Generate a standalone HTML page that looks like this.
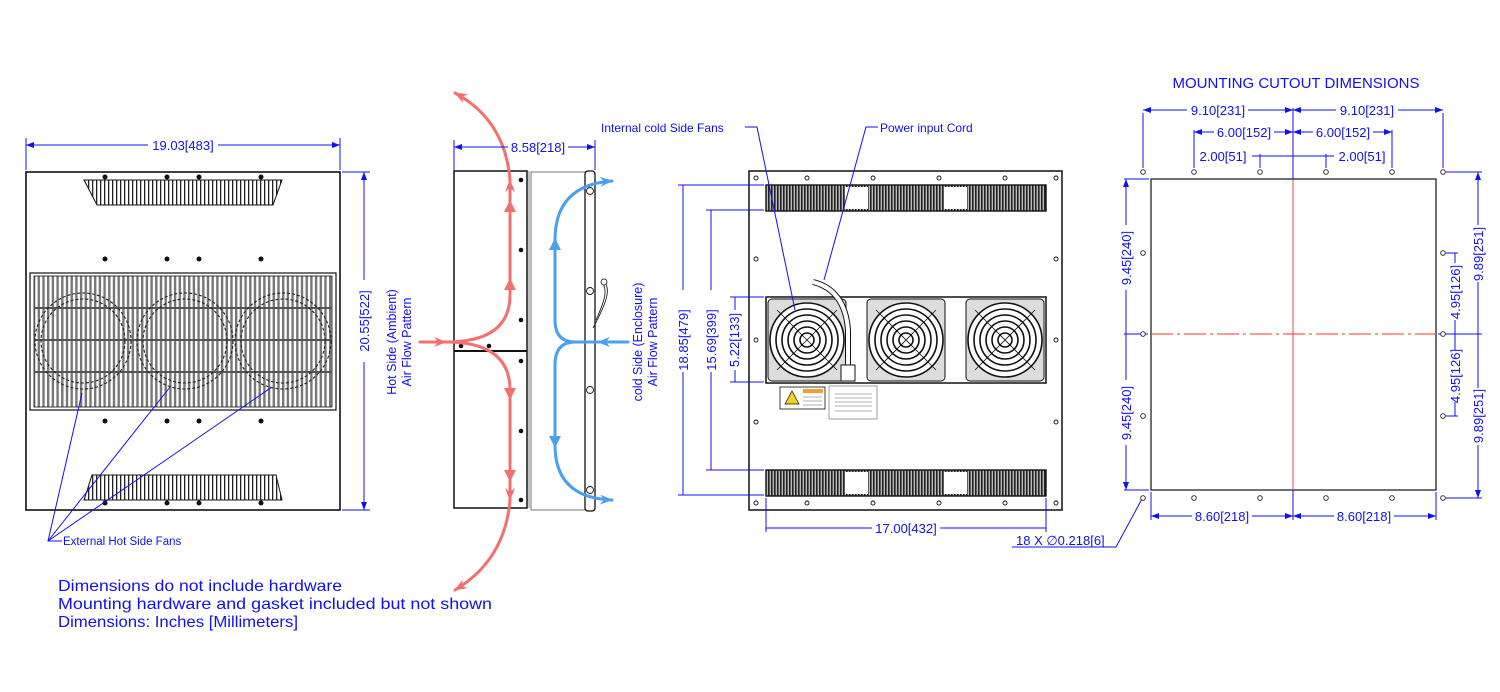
<!DOCTYPE html>
<html><head><meta charset="utf-8"><style>
html,body{margin:0;padding:0;background:#fff;}
svg{display:block;}
text{font-family:"Liberation Sans",sans-serif;fill:#1010f0;}
</style></head><body>
<svg width="1500" height="692" viewBox="0 0 1500 692" xmlns="http://www.w3.org/2000/svg">
<defs>
<pattern id="vs" width="4" height="10" patternUnits="userSpaceOnUse"><rect width="4" height="10" fill="#fff"/><rect x="0" width="1.3" height="10" fill="#222"/></pattern>
<pattern id="gs" width="4.7" height="10" patternUnits="userSpaceOnUse"><rect width="4.7" height="10" fill="#fff"/><rect x="0" width="2.4" height="10" fill="#777"/></pattern>
<pattern id="ds" width="3" height="10" patternUnits="userSpaceOnUse"><rect width="3" height="10" fill="#bbb"/><rect x="0" width="1.6" height="10" fill="#222"/></pattern>
<marker id="ab" markerWidth="8" markerHeight="6" refX="8" refY="3" orient="auto-start-reverse" markerUnits="userSpaceOnUse"><path d="M0,0 L8,3 L0,6 z" fill="#1010f0"/></marker>
<marker id="ar" markerWidth="14" markerHeight="10" refX="12" refY="5" orient="auto" markerUnits="userSpaceOnUse"><path d="M0,0 L13,5 L0,10 L4,5 z" fill="#f47070"/></marker>
<marker id="ac" markerWidth="14" markerHeight="10" refX="12" refY="5" orient="auto" markerUnits="userSpaceOnUse"><path d="M0,0 L13,5 L0,10 L4,5 z" fill="#4aa0ee"/></marker>
</defs>

<!-- ============ VIEW 1 ============ -->
<g stroke="#111" fill="none">
<rect x="26" y="172" width="314" height="338" stroke-width="1.6"/>
<polygon points="84,180 282,180 273,205 97,205" fill="url(#vs)" stroke-width="1"/>
<polygon points="92,475 276,475 282,500 84,500" fill="url(#vs)" stroke-width="1"/>
<rect x="30" y="273" width="306" height="137" stroke-width="1.2" fill="#fff"/>
<rect x="34" y="276" width="298" height="131" fill="url(#gs)" stroke-width="0.8"/>
<line x1="34" y1="308" x2="332" y2="308" stroke="#555" stroke-width="2"/>
<line x1="34" y1="340" x2="332" y2="340" stroke="#555" stroke-width="2"/>
<line x1="34" y1="372" x2="332" y2="372" stroke="#555" stroke-width="2"/>
<g stroke="#222" stroke-width="1.1" stroke-dasharray="3,2">
<circle cx="83" cy="341" r="48"/><circle cx="83" cy="341" r="42"/>
<circle cx="185" cy="341" r="48"/><circle cx="185" cy="341" r="42"/>
<circle cx="283" cy="341" r="48"/><circle cx="283" cy="341" r="42"/>
</g>
</g>
<g fill="#111">
<circle cx="105" cy="177" r="2.5"/><circle cx="167" cy="177" r="2.5"/><circle cx="199" cy="177" r="2.5"/><circle cx="261" cy="177" r="2.5"/>
<circle cx="105" cy="259" r="2.5"/><circle cx="167" cy="259" r="2.5"/><circle cx="199" cy="259" r="2.5"/><circle cx="261" cy="259" r="2.5"/>
<circle cx="105" cy="421" r="2.5"/><circle cx="167" cy="421" r="2.5"/><circle cx="199" cy="421" r="2.5"/><circle cx="261" cy="421" r="2.5"/>
<circle cx="105" cy="503" r="2.5"/><circle cx="167" cy="503" r="2.5"/><circle cx="199" cy="503" r="2.5"/><circle cx="261" cy="503" r="2.5"/>
</g>
<g stroke="#1010f0" stroke-width="1" fill="none">
<line x1="26" y1="138" x2="26" y2="170"/><line x1="340" y1="138" x2="340" y2="170"/>
<line x1="26" y1="145" x2="148" y2="145" marker-start="url(#ab)"/><line x1="218" y1="145" x2="340" y2="145" marker-end="url(#ab)"/>
<line x1="342" y1="172" x2="370" y2="172"/><line x1="342" y1="510" x2="370" y2="510"/>
<line x1="364" y1="172" x2="364" y2="280" marker-start="url(#ab)"/><line x1="364" y1="362" x2="364" y2="510" marker-end="url(#ab)"/>
<polyline points="62,541 48,541 82,393"/><line x1="48" y1="541" x2="170" y2="387"/><line x1="48" y1="541" x2="272" y2="387"/>
</g>
<text x="183" y="150" font-size="13" text-anchor="middle">19.03[483]</text>
<text transform="translate(369,321) rotate(-90)" font-size="13" text-anchor="middle">20.55[522]</text>
<text x="63" y="545" font-size="11.5">External Hot Side Fans</text>

<!-- ============ VIEW 2 ============ -->
<g stroke="#111" fill="none">
<rect x="454" y="171" width="73" height="337" stroke-width="1.5"/>
<line x1="454" y1="351" x2="527" y2="351" stroke-width="2"/>
<line x1="529" y1="171" x2="529" y2="508" stroke="#888"/>
<rect x="531" y="172" width="54" height="338" stroke-width="0.8" stroke="#555"/>
<rect x="585" y="171" width="10" height="340" rx="3" stroke-width="1.3"/>
<path d="M596,320 C605,300 608,290 602,282" stroke-width="0.8"/>
<path d="M593,328 C608,300 610,290 605,282" stroke-width="0.8"/>
<circle cx="604" cy="282" r="3" stroke-width="0.8" fill="#fff"/>
<g stroke-width="0.9"><circle cx="590" cy="191" r="3.5"/><circle cx="590" cy="291" r="3.5"/><circle cx="590" cy="390" r="3.5"/><circle cx="590" cy="490" r="3.5"/></g>
</g>
<g fill="#111"><circle cx="521" cy="180" r="2.3"/><circle cx="521" cy="250" r="2.3"/><circle cx="521" cy="320" r="2.3"/><circle cx="521" cy="361" r="2.3"/><circle cx="521" cy="431" r="2.3"/><circle cx="521" cy="500" r="2.3"/><circle cx="461" cy="346" r="2.3"/><circle cx="489" cy="346" r="2.3"/></g>
<g stroke="#f47070" stroke-width="3" fill="none" stroke-linecap="round">
<line x1="420" y1="342" x2="446" y2="342" marker-end="url(#ar)"/>
<path d="M446,342 Q510,342 510,295"/>
<path d="M446,342 Q510,342 510,390"/>
<line x1="510" y1="295" x2="510" y2="270"/><line x1="510" y1="295" x2="510" y2="180" marker-end="url(#ar)"/>
<line x1="510" y1="390" x2="510" y2="500" marker-end="url(#ar)"/>
<path d="M510,180 Q505,120 455,93" marker-end="url(#ar)"/>
<path d="M510,500 Q505,560 455,590" marker-end="url(#ar)"/>
</g>
<g fill="#f47070"><path d="M504,212 L510,200 L516,212z"/><path d="M504,290 L510,278 L516,290z"/><path d="M504,388 L510,400 L516,388z"/><path d="M504,470 L510,482 L516,470z"/></g>
<g stroke="#4aa0ee" stroke-width="3" fill="none" stroke-linecap="round">
<line x1="628" y1="342" x2="598" y2="342" marker-end="url(#ac)"/>
<path d="M600,342 L575,342 Q555,342 555,320"/>
<path d="M575,342 Q555,342 555,365"/>
<line x1="555" y1="320" x2="555" y2="240"/>
<line x1="555" y1="365" x2="555" y2="445"/>
<path d="M555,240 Q555,185 612,181" marker-end="url(#ac)"/>
<path d="M555,445 Q555,498 612,500" marker-end="url(#ac)"/>
</g>
<g fill="#4aa0ee"><path d="M549,250 L555,238 L561,250z"/><path d="M549,436 L555,448 L561,436z"/></g>
<g stroke="#1010f0" stroke-width="1" fill="none">
<line x1="454" y1="140" x2="454" y2="170"/><line x1="595" y1="140" x2="595" y2="170"/>
<line x1="454" y1="147" x2="508" y2="147" marker-start="url(#ab)"/><line x1="568" y1="147" x2="595" y2="147" marker-end="url(#ab)"/>
</g>
<text x="538" y="152" font-size="13" text-anchor="middle">8.58[218]</text>
<text transform="translate(396,342) rotate(-90)" font-size="12.5" text-anchor="middle">Hot Side (Ambient)</text>
<text transform="translate(411,342) rotate(-90)" font-size="12.5" text-anchor="middle">Air Flow Pattern</text>
<text transform="translate(642,342) rotate(-90)" font-size="12.5" text-anchor="middle">cold Side (Enclosure)</text>
<text transform="translate(657,342) rotate(-90)" font-size="12.5" text-anchor="middle">Air Flow Pattern</text>

<!-- ============ VIEW 3 ============ -->
<g stroke="#111" fill="none">
<rect x="749" y="171" width="313" height="339" stroke-width="1.5"/>
<rect x="766" y="185" width="280" height="26" fill="url(#ds)" stroke-width="1.4"/>
<rect x="845" y="187" width="23" height="22" fill="#fff" stroke="none"/><rect x="944" y="187" width="23" height="22" fill="#fff" stroke="none"/>
<rect x="766" y="470" width="280" height="26" fill="url(#ds)" stroke-width="1.4"/>
<rect x="845" y="472" width="23" height="22" fill="#fff" stroke="none"/><rect x="944" y="472" width="23" height="22" fill="#fff" stroke="none"/>
<rect x="766" y="297" width="280" height="86" stroke-width="1.5" fill="#fff"/>
<g stroke-width="1">
<rect x="768" y="299" width="78" height="82" rx="4" fill="#ddd"/>
<rect x="867" y="299" width="78" height="82" rx="4" fill="#ddd"/>
<rect x="966" y="299" width="78" height="82" rx="4" fill="#ddd"/>
</g>
<g stroke-width="1.6">
<circle cx="807" cy="340" r="37" fill="#fff"/><circle cx="807" cy="340" r="31"/><circle cx="807" cy="340" r="25"/><circle cx="807" cy="340" r="19"/><circle cx="807" cy="340" r="13"/><circle cx="807" cy="340" r="7"/>
<circle cx="906" cy="340" r="37" fill="#fff"/><circle cx="906" cy="340" r="31"/><circle cx="906" cy="340" r="25"/><circle cx="906" cy="340" r="19"/><circle cx="906" cy="340" r="13"/><circle cx="906" cy="340" r="7"/>
<circle cx="1005" cy="340" r="37" fill="#fff"/><circle cx="1005" cy="340" r="31"/><circle cx="1005" cy="340" r="25"/><circle cx="1005" cy="340" r="19"/><circle cx="1005" cy="340" r="13"/><circle cx="1005" cy="340" r="7"/>
</g>
<g stroke-width="0.8"><path d="M777,310 L837,370 M837,310 L777,370 M876,310 L936,370 M936,310 L876,370 M975,310 L1035,370 M1035,310 L975,370"/></g>
<path d="M813,282 Q845,290 848,330 L848,368" stroke-width="6" stroke="#111"/>
<path d="M813,282 Q845,290 848,330 L848,368" stroke-width="4" stroke="#fff"/>
<rect x="841" y="365" width="14" height="16" fill="#fff" stroke-width="1"/>
<rect x="780" y="387" width="45" height="22" fill="#fff" stroke-width="0.8"/>
<rect x="829" y="386" width="48" height="33" fill="#fff" stroke-width="0.8" stroke="#888"/>
</g>
<path d="M785,404 L792,391 L799,404z" fill="#f4d020" stroke="#111" stroke-width="0.7"/>
<rect x="803" y="389" width="20" height="4" fill="#f0a030"/>
<g stroke="#999" stroke-width="0.8"><line x1="803" y1="397" x2="822" y2="397"/><line x1="803" y1="401" x2="822" y2="401"/><line x1="803" y1="405" x2="822" y2="405"/><line x1="835" y1="394" x2="872" y2="394"/><line x1="835" y1="398" x2="872" y2="398"/><line x1="835" y1="402" x2="872" y2="402"/><line x1="835" y1="406" x2="872" y2="406"/><line x1="835" y1="411" x2="872" y2="411"/></g>
<g fill="none" stroke="#111" stroke-width="0.9">
<circle cx="756" cy="178" r="2"/><circle cx="807" cy="178" r="2"/><circle cx="873" cy="178" r="2"/><circle cx="939" cy="178" r="2"/><circle cx="1005" cy="178" r="2"/><circle cx="1056" cy="178" r="2"/>
<circle cx="756" cy="503" r="2"/><circle cx="807" cy="503" r="2"/><circle cx="873" cy="503" r="2"/><circle cx="939" cy="503" r="2"/><circle cx="1005" cy="503" r="2"/><circle cx="1056" cy="503" r="2"/>
<circle cx="756" cy="259" r="2"/><circle cx="756" cy="340" r="2"/><circle cx="756" cy="422" r="2"/>
<circle cx="1056" cy="259" r="2"/><circle cx="1056" cy="340" r="2"/><circle cx="1056" cy="422" r="2"/>
</g>
<g stroke="#1010f0" stroke-width="1" fill="none">
<line x1="678" y1="185" x2="764" y2="185"/><line x1="678" y1="495" x2="764" y2="495"/>
<line x1="683" y1="185" x2="683" y2="290"/><line x1="683" y1="372" x2="683" y2="495"/>
<line x1="706" y1="210" x2="764" y2="210"/><line x1="706" y1="470" x2="764" y2="470"/>
<line x1="711" y1="210" x2="711" y2="290"/><line x1="711" y1="372" x2="711" y2="470"/>
<line x1="730" y1="297" x2="764" y2="297"/><line x1="730" y1="382" x2="764" y2="382"/>
<line x1="735" y1="297" x2="735" y2="310"/><line x1="735" y1="370" x2="735" y2="382"/>
<line x1="766" y1="498" x2="766" y2="532"/><line x1="1046" y1="498" x2="1046" y2="532"/>
<line x1="766" y1="528" x2="872" y2="528"/><line x1="940" y1="528" x2="1046" y2="528"/>
<polyline points="745,127 757,127 795,310"/>
<polyline points="878,127 866,127 824,280"/>
<polyline points="1012,547 1116,547 1143,497"/>
</g>
<text transform="translate(688,340) rotate(-90)" font-size="13" text-anchor="middle">18.85[479]</text>
<text transform="translate(716,340) rotate(-90)" font-size="13" text-anchor="middle">15.69[399]</text>
<text transform="translate(739,340) rotate(-90)" font-size="13" text-anchor="middle">5.22[133]</text>
<text x="906" y="533" font-size="13" text-anchor="middle">17.00[432]</text>
<text x="601" y="132" font-size="12">Internal cold Side Fans</text>
<text x="880" y="132" font-size="12">Power input Cord</text>
<text x="1016" y="545" font-size="13">18 X ∅0.218[6]</text>

<!-- ============ VIEW 4 ============ -->
<text x="1296" y="88" font-size="15" text-anchor="middle">MOUNTING CUTOUT DIMENSIONS</text>
<rect x="1151" y="179" width="285" height="311" fill="none" stroke="#222" stroke-width="1.3"/>
<line x1="1151" y1="334" x2="1436" y2="334" stroke="#f03030" stroke-width="1.1" stroke-dasharray="22,4,3,4"/>
<line x1="1293" y1="179" x2="1293" y2="490" stroke="#f03030" stroke-width="0.9"/>
<g stroke="#1010f0" stroke-width="1" fill="none">
<line x1="1293" y1="108" x2="1293" y2="179"/><line x1="1293" y1="490" x2="1293" y2="520"/>
<line x1="1143" y1="113" x2="1143" y2="168"/><line x1="1443" y1="113" x2="1443" y2="168"/>
<line x1="1143" y1="110" x2="1187" y2="110" marker-start="url(#ab)"/><line x1="1248" y1="110" x2="1293" y2="110" marker-end="url(#ab)"/>
<line x1="1293" y1="110" x2="1336" y2="110" marker-start="url(#ab)"/><line x1="1398" y1="110" x2="1443" y2="110" marker-end="url(#ab)"/>
<line x1="1194" y1="130" x2="1194" y2="168"/><line x1="1392" y1="130" x2="1392" y2="168"/>
<line x1="1194" y1="132" x2="1214" y2="132" marker-start="url(#ab)"/><line x1="1274" y1="132" x2="1293" y2="132" marker-end="url(#ab)"/>
<line x1="1293" y1="132" x2="1313" y2="132" marker-start="url(#ab)"/><line x1="1373" y1="132" x2="1392" y2="132" marker-end="url(#ab)"/>
<line x1="1260" y1="154" x2="1260" y2="168"/><line x1="1326" y1="154" x2="1326" y2="168"/>
<line x1="1252" y1="156" x2="1334" y2="156"/>
<line x1="1124" y1="179" x2="1149" y2="179"/><line x1="1124" y1="490" x2="1149" y2="490"/>
<line x1="1126" y1="179" x2="1126" y2="225" marker-start="url(#ab)"/><line x1="1126" y1="290" x2="1126" y2="334"/>
<line x1="1126" y1="334" x2="1126" y2="380"/><line x1="1126" y1="445" x2="1126" y2="490" marker-end="url(#ab)"/>
<line x1="1124" y1="334" x2="1148" y2="334"/><line x1="1438" y1="334" x2="1482" y2="334"/>
<line x1="1446" y1="172" x2="1482" y2="172"/><line x1="1446" y1="498" x2="1482" y2="498"/>
<line x1="1478" y1="172" x2="1478" y2="225" marker-start="url(#ab)"/><line x1="1478" y1="282" x2="1478" y2="334"/>
<line x1="1478" y1="334" x2="1478" y2="388"/><line x1="1478" y1="445" x2="1478" y2="498" marker-end="url(#ab)"/>
<line x1="1446" y1="253" x2="1458" y2="253"/><line x1="1446" y1="416" x2="1458" y2="416"/>
<line x1="1455" y1="253" x2="1455" y2="263"/><line x1="1455" y1="320" x2="1455" y2="334"/>
<line x1="1455" y1="334" x2="1455" y2="350"/><line x1="1455" y1="402" x2="1455" y2="416"/>
<line x1="1151" y1="492" x2="1151" y2="520"/><line x1="1436" y1="492" x2="1436" y2="520"/>
<line x1="1151" y1="516" x2="1192" y2="516" marker-start="url(#ab)"/><line x1="1252" y1="516" x2="1293" y2="516" marker-end="url(#ab)"/>
<line x1="1293" y1="516" x2="1334" y2="516" marker-start="url(#ab)"/><line x1="1394" y1="516" x2="1436" y2="516" marker-end="url(#ab)"/>
</g>
<g fill="#fff" stroke="#222" stroke-width="0.9">
<circle cx="1143" cy="172" r="2.3"/><circle cx="1194" cy="172" r="2.3"/><circle cx="1260" cy="172" r="2.3"/><circle cx="1326" cy="172" r="2.3"/><circle cx="1392" cy="172" r="2.3"/><circle cx="1443" cy="172" r="2.3"/>
<circle cx="1143" cy="498" r="2.3"/><circle cx="1194" cy="498" r="2.3"/><circle cx="1260" cy="498" r="2.3"/><circle cx="1326" cy="498" r="2.3"/><circle cx="1392" cy="498" r="2.3"/><circle cx="1443" cy="498" r="2.3"/>
<circle cx="1143" cy="253" r="2.3"/><circle cx="1143" cy="334" r="2.3"/><circle cx="1143" cy="416" r="2.3"/>
<circle cx="1443" cy="253" r="2.3"/><circle cx="1443" cy="334" r="2.3"/><circle cx="1443" cy="416" r="2.3"/>
</g>
<text x="1218" y="115" font-size="13" text-anchor="middle">9.10[231]</text>
<text x="1367" y="115" font-size="13" text-anchor="middle">9.10[231]</text>
<text x="1244" y="137" font-size="13" text-anchor="middle">6.00[152]</text>
<text x="1343" y="137" font-size="13" text-anchor="middle">6.00[152]</text>
<text x="1223" y="161" font-size="13" text-anchor="middle">2.00[51]</text>
<text x="1362" y="161" font-size="13" text-anchor="middle">2.00[51]</text>
<text transform="translate(1131,258) rotate(-90)" font-size="13" text-anchor="middle">9.45[240]</text>
<text transform="translate(1131,413) rotate(-90)" font-size="13" text-anchor="middle">9.45[240]</text>
<text transform="translate(1483,254) rotate(-90)" font-size="13" text-anchor="middle">9.89[251]</text>
<text transform="translate(1483,416) rotate(-90)" font-size="13" text-anchor="middle">9.89[251]</text>
<text transform="translate(1460,292) rotate(-90)" font-size="13" text-anchor="middle">4.95[126]</text>
<text transform="translate(1460,376) rotate(-90)" font-size="13" text-anchor="middle">4.95[126]</text>
<text x="1222" y="521" font-size="13" text-anchor="middle">8.60[218]</text>
<text x="1364" y="521" font-size="13" text-anchor="middle">8.60[218]</text>

<!-- notes -->
<text x="58" y="591" font-size="16" textLength="284" lengthAdjust="spacingAndGlyphs">Dimensions do not include hardware</text>
<text x="58" y="609" font-size="16" textLength="434" lengthAdjust="spacingAndGlyphs">Mounting hardware and gasket included but not shown</text>
<text x="58" y="627" font-size="16" textLength="240" lengthAdjust="spacingAndGlyphs">Dimensions: Inches [Millimeters]</text>
</svg>
</body></html>
